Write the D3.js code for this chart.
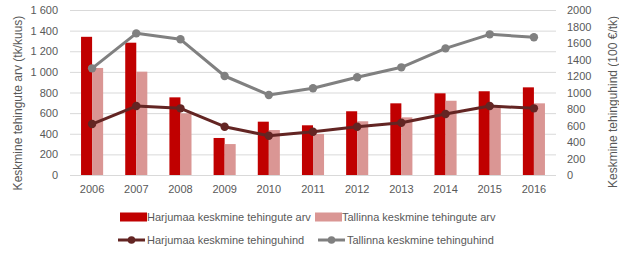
<!DOCTYPE html>
<html><head><meta charset="utf-8">
<script src="https://cdn.jsdelivr.net/npm/d3@7"></script>
<style>body{margin:0;background:#fff}svg{display:block;font-family:"Liberation Sans",Arial,sans-serif}</style>
</head><body><div id="c"></div>
<script>
const years = ["2006","2007","2008","2009","2010","2011","2012","2013","2014","2015","2016"];
const harjuCount = [1340,1283,753,359,517,482,618,695,792,812,850];
const tallinnCount = [1038,1002,598,300,436,398,521,559,720,665,695];
const harjuPrice = [618,836,808,585,476,525,585,634,739,836,808];
const tallinnPrice = [1293,1717,1645,1200,970,1051,1184,1305,1535,1705,1669];
const leftTicks = [0,200,400,600,800,1000,1200,1400,1600];
const rightTicks = [0,200,400,600,800,1000,1200,1400,1600,1800,2000];
const names = ["Harjumaa keskmine tehingute arv","Tallinna keskmine tehingute arv","Harjumaa keskmine tehinguhind","Tallinna keskmine tehinguhind"];
const colors = ["#C00000","#DA9694","#632523","#808080"];

const W=619,H=254, x0=70, x1=556, yTop=10, yBot=175;
const svg=d3.select("#c").append("svg").attr("width",W).attr("height",H);
const x=d3.scaleBand().domain(years).range([x0,x1]).paddingInner(0.5).paddingOuter(0.25);
const xs=d3.scaleBand().domain([0,1]).range([0,x.bandwidth()]);
const yL=d3.scaleLinear().domain([0,1600]).range([yBot,yTop]);
const yR=d3.scaleLinear().domain([0,2000]).range([yBot,yTop]);
const fmtL=v=>v>=1000?d3.format(",")(v).replace(","," "):String(v);

// gridlines
const gl=d3.axisLeft(yL).tickValues(leftTicks).tickSize(-(x1-x0)).tickFormat("");
svg.append("g").attr("transform",`translate(${x0},0)`).call(gl)
  .call(g=>g.select(".domain").remove())
  .call(g=>g.selectAll("line").attr("stroke","#D9D9D9"));

// left axis labels
svg.append("g").attr("transform",`translate(${x0},0)`)
  .call(d3.axisLeft(yL).tickValues(leftTicks).tickSize(0).tickPadding(12).tickFormat(fmtL))
  .call(g=>g.select(".domain").remove())
  .call(g=>g.selectAll("text").attr("fill","#595959").attr("font-size","11px").style("font-family","inherit"));
// right axis labels
svg.append("g").attr("transform",`translate(${x1},0)`)
  .call(d3.axisRight(yR).tickValues(rightTicks).tickSize(0).tickPadding(11).tickFormat(d=>String(d)))
  .call(g=>g.select(".domain").remove())
  .call(g=>g.selectAll("text").attr("fill","#595959").attr("font-size","11px").style("font-family","inherit"));
// x axis labels
svg.append("g").attr("transform",`translate(0,${yBot})`)
  .call(d3.axisBottom(x).tickSize(0).tickPadding(10))
  .call(g=>g.select(".domain").remove())
  .call(g=>g.selectAll("text").attr("fill","#595959").attr("font-size","11px").style("font-family","inherit"));

// bars
[harjuCount,tallinnCount].forEach((arr,i)=>{
  svg.append("g").selectAll("rect").data(arr).join("rect")
    .attr("x",(d,j)=>x(years[j])+xs(i)).attr("width",xs.bandwidth())
    .attr("y",d=>yL(d)).attr("height",d=>yBot-yL(d)).attr("fill",colors[i]);
});
// lines
[harjuPrice,tallinnPrice].forEach((arr,i)=>{
  const c=colors[i+2];
  const line=d3.line().x((d,j)=>x(years[j])+x.bandwidth()/2).y(d=>yR(d));
  svg.append("path").datum(arr).attr("d",line).attr("fill","none").attr("stroke",c).attr("stroke-width",3).attr("stroke-linejoin","round");
  svg.append("g").selectAll("circle").data(arr).join("circle")
    .attr("cx",(d,j)=>x(years[j])+x.bandwidth()/2).attr("cy",d=>yR(d)).attr("r",4.2).attr("fill",c);
});

// axis titles
svg.append("text").attr("transform","translate(22,103) rotate(-90)").attr("text-anchor","middle")
  .attr("fill","#595959").attr("font-size","12px").text("Keskmine tehingute arv (tk/kuus)");
svg.append("text").attr("transform","translate(617,102) rotate(-90)").attr("text-anchor","middle")
  .attr("fill","#595959").attr("font-size","12px").text("Keskmine tehinguhind (100 €/tk)");

// legend
const leg=[{x:120,y:217,t:"rect",i:0},{x:315,y:217,t:"rect",i:1},{x:118,y:240,t:"line",i:2},{x:318,y:240,t:"line",i:3}];
leg.forEach(l=>{
  const g=svg.append("g");
  if(l.t==="rect"){
    g.append("rect").attr("x",l.x).attr("y",l.y-4.5).attr("width",27).attr("height",9).attr("fill",colors[l.i]);
  } else {
    g.append("line").attr("x1",l.x).attr("x2",l.x+27).attr("y1",l.y).attr("y2",l.y).attr("stroke",colors[l.i]).attr("stroke-width",3);
    g.append("circle").attr("cx",l.x+13.5).attr("cy",l.y).attr("r",3.8).attr("fill",colors[l.i]);
  }
  g.append("text").attr("x",(l.t==="rect"?l.x+27:l.x+29)).attr("y",l.y).attr("dy","0.35em")
    .attr("fill","#595959").attr("font-size","11px").text(names[l.i]);
});
</script></body></html>
